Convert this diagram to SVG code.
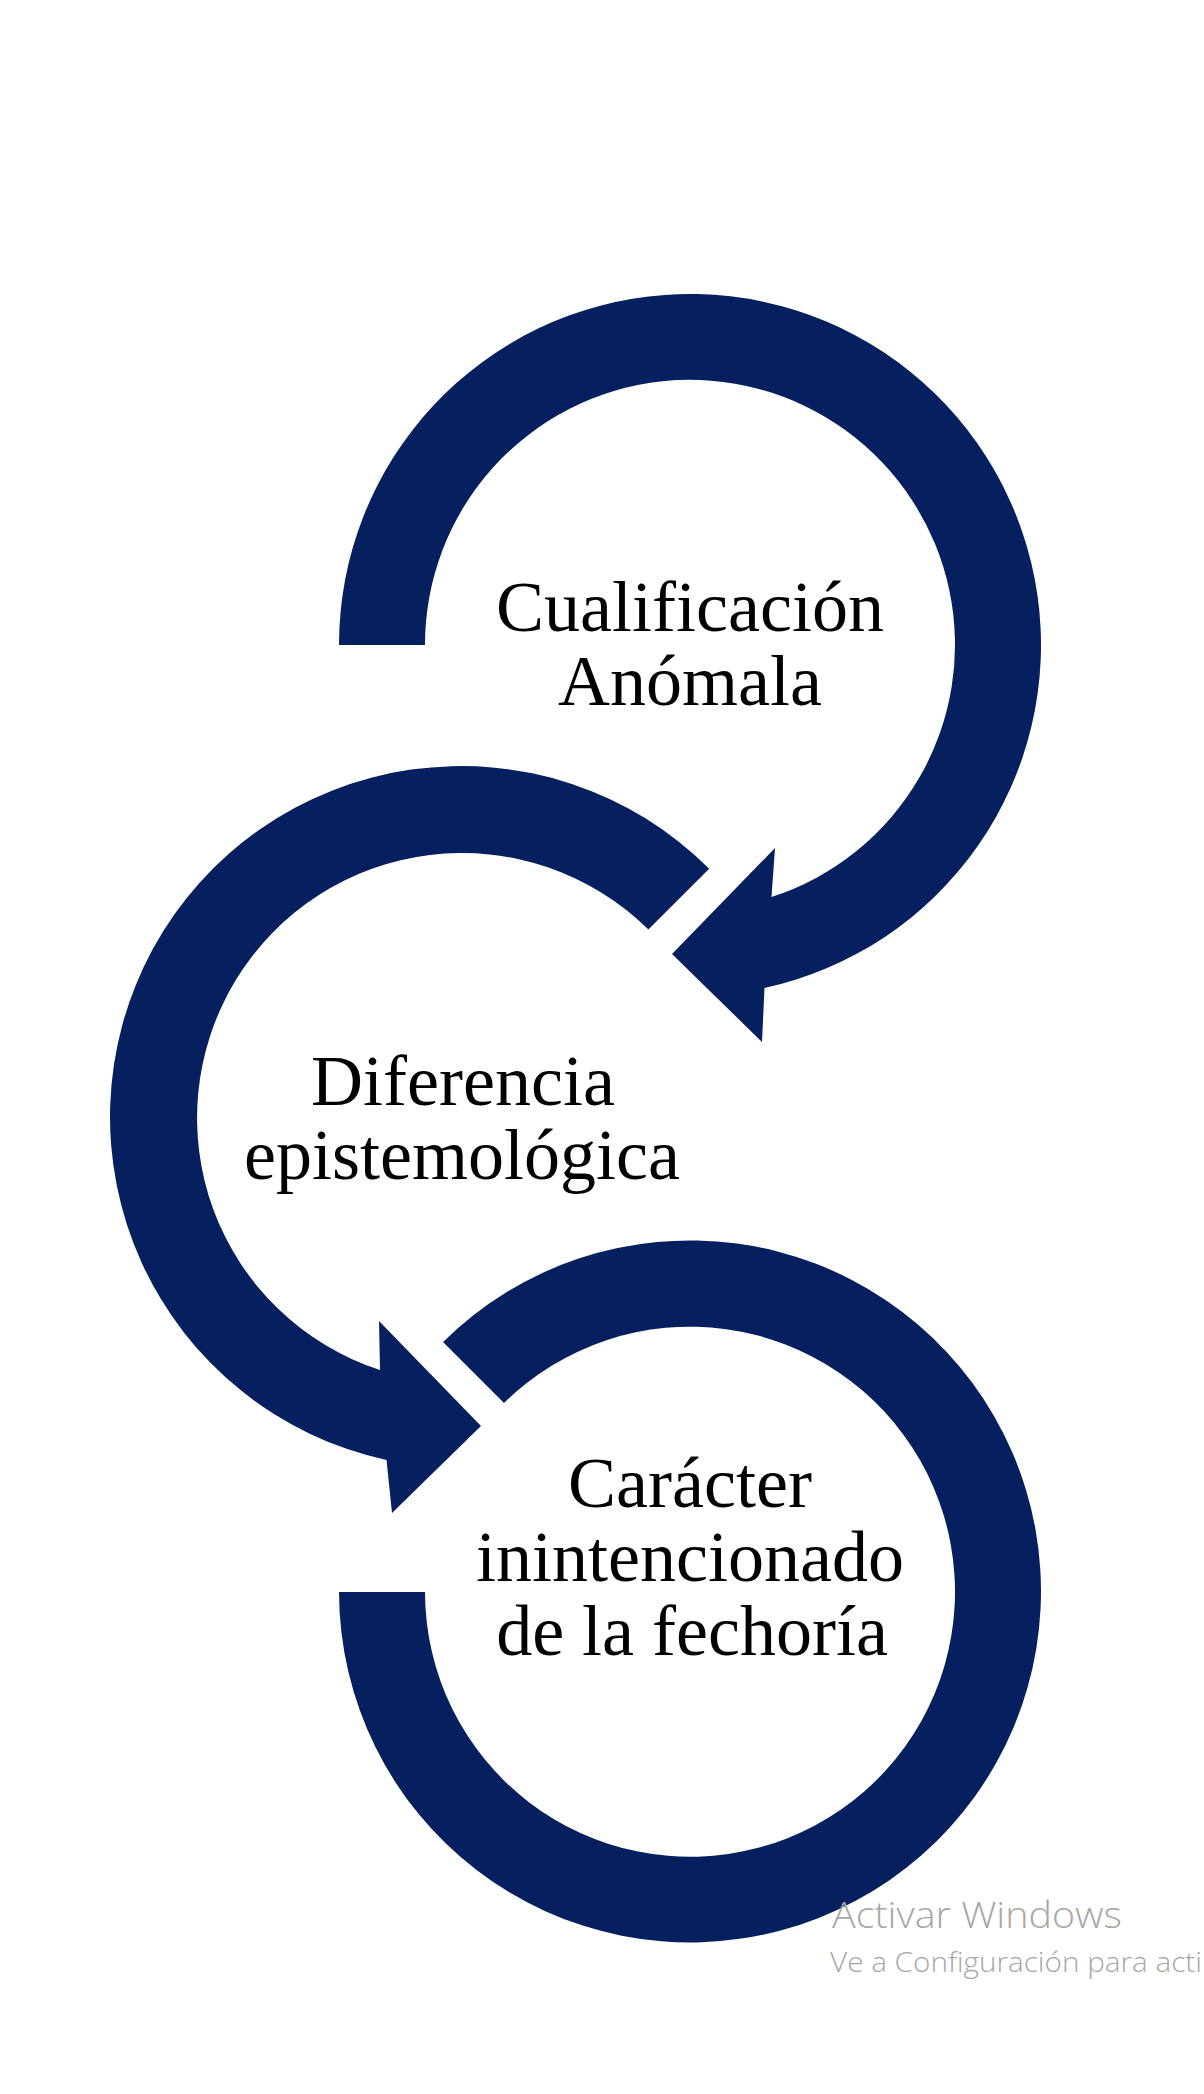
<svg xmlns="http://www.w3.org/2000/svg" width="1204" height="2094" viewBox="0 0 1204 2094">
  <style>
    .ring { fill: #06205f; stroke: none; }
    .label { font-family: "Liberation Serif", "Times New Roman", serif; font-size: 72px; fill: #000000; text-anchor: middle; }
    .wm { font-family: "Open Sans", "Noto Sans", sans-serif; font-weight: 300; fill: #aaa6a4; }
  </style>
  <rect x="0" y="0" width="1204" height="2094" fill="#ffffff"/>
  <g id="connectors">
    <path id="arrow-top" class="ring" d="M 339,645 A 351 351 0 1 1 764.5,988 L 762,1042 L 672,954 L 775,848 L 771.5,897 A 265 265 0 1 0 425,645 Z"/>
    <path id="arrow-middle" class="ring" d="M 709.2,868.8 A 351 351 0 1 0 386.5,1460 L 392,1513 L 481,1426 L 379,1321 L 380,1370 A 265 265 0 1 1 648.4,929.6 Z"/>
    <path id="ring-bottom" class="ring" d="M 339,1592 A 351 351 0 1 0 443,1342 L 504,1403 A 265 265 0 1 1 425,1592 Z"/>
  </g>
  <g id="node-cualificacion">
    <text class="label" x="690" y="631">Cualificación</text>
    <text class="label" x="690" y="705">Anómala</text>
  </g>
  <g id="node-diferencia">
    <text class="label" x="463" y="1105">Diferencia</text>
    <text class="label" x="462" y="1179">epistemológica</text>
  </g>
  <g id="node-caracter">
    <text class="label" x="690" y="1507">Carácter</text>
    <text class="label" x="690" y="1581">inintencionado</text>
    <text class="label" x="692" y="1655">de la fechoría</text>
  </g>
  <g id="watermark">
    <text class="wm" x="832" y="1928" font-size="36" textLength="290" lengthAdjust="spacingAndGlyphs">Activar Windows</text>
    <text class="wm" x="830" y="1972" font-size="28" textLength="372" lengthAdjust="spacingAndGlyphs">Ve a Configuración para acti</text>
  </g>
</svg>
